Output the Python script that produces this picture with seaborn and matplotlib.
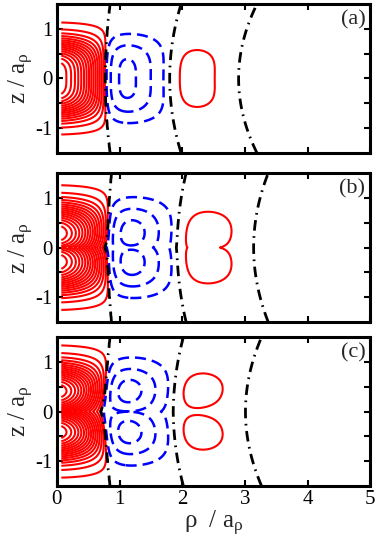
import numpy as np
import matplotlib
matplotlib.use("Agg")
import matplotlib.pyplot as plt
import seaborn as sns

# ---- data ----
panel_labels = ["(a)", "(b)", "(c)"]
node1 = [0.77, 0.81, 0.78]          # first nodal radius at z = 0
node2 = [1.80, 1.92, 1.86]          # second nodal radius at z = 0
node3 = [2.90, 3.14, 3.01]          # third nodal radius at z = 0
node_bend = [0.045, 0.033, 0.038]   # outward bend of nodal lines with |z|
radial_width = [1.60, 1.75, 1.66]   # radial envelope width
z_width = [0.74, 0.82, 0.86]        # axial width of the lobes
z_dip = [0.0, 0.30, 0.65]           # depth of the splitting at z = 0
z_dip_width = [0.2, 0.15, 0.3]      # axial extent of the splitting
inner_shift = [0.0, 0.05, 0.08]     # inward kink at z = 0 near the first node
outer_shift = [0.0, 0.12, 0.06]     # inward kink at z = 0 near the second lobe
core_amp = [0.80, 0.80, 0.80]       # amplitude of the central lobe
pos_levels = [0.01, 0.05, 0.10, 0.15, 0.20, 0.25, 0.30, 0.35, 0.40,
              0.45, 0.50, 0.55, 0.60, 0.65, 0.70, 0.75]
neg_levels = [-0.058, -0.032, -0.009]
zero_level = [0.0]
x_ticks = [0, 1, 2, 3, 4, 5]
x_ticklabels = ["0", "1", "2", "3", "4", "5"]
y_ticks = [-1, 0, 1]
y_ticklabels = ["-1", "0", "1"]
y_minor = [-0.5, 0.5]

sns.set_theme(style="ticks")
plt.rcParams["font.family"] = ["Liberation Serif", "DejaVu Serif"]
plt.rcParams["mathtext.fontset"] = "custom"
plt.rcParams["mathtext.rm"] = "Liberation Serif"
plt.rcParams["mathtext.it"] = "Liberation Serif:italic"

rho = np.linspace(0.07, 5.0, 600)
zz = np.linspace(-1.5, 1.5, 301)
RR, ZZ = np.meshgrid(rho, zz)


def axial(z, i):
    az = np.abs(z)
    return (np.exp(-(az / z_width[i]) ** 3.5)
            * (1.0 - z_dip[i] * np.exp(-az / z_dip_width[i])))


def field(i):
    n1, n2, n3 = node1[i], node2[i], node3[i]
    az = np.abs(ZZ)
    s0 = RR / (1.0 + node_bend[i] * ZZ ** 2)
    kink = np.exp(-az / z_dip_width[i])
    s = s0 + kink * (inner_shift[i] * np.exp(-((s0 - 0.7) / 0.3) ** 2)
                     + outer_shift[i] * np.exp(-((s0 - 2.35) / 0.3) ** 2))
    core = np.where(s < n1, core_amp[i] * (1.0 - (np.clip(s, 0, None) / n1) ** 1.7), 0.0)
    tail = (1 - s / n1) * (1 - s / n2) * (1 - s / n3) * np.exp(-(s / radial_width[i]) ** 2)
    tail = np.where(s >= n1, tail, 0.0)
    radial = core + tail
    gmax = np.max(axial(np.linspace(0, 1.5, 3001), i))
    return radial * axial(ZZ, i) / gmax


fig = plt.figure(figsize=(3.82, 5.44), dpi=100)
left, width = 0.149, 0.820
bottoms = [0.7188, 0.4080, 0.1066]
height = 0.2738

for i in range(3):
    ax = fig.add_axes([left, bottoms[i], width, height])
    F = field(i)
    ax.contour(RR, ZZ, F, levels=pos_levels, colors="#ff0000",
               linewidths=1.5, linestyles="solid")
    ax.contour(RR, ZZ, F, levels=neg_levels, colors="#0000ff",
               linewidths=1.8, linestyles=[(0, (4.4, 2.4))])
    ax.contour(RR, ZZ, F, levels=zero_level, colors="black",
               linewidths=2.0, linestyles=[(0, (3.8, 2.0, 0.6, 2.0))])
    ax.set_xlim(0, 5)
    ax.set_ylim(-1.5, 1.5)
    ax.set_xticks(x_ticks)
    ax.set_yticks(y_ticks)
    ax.set_yticks(y_minor, minor=True)
    ax.set_yticklabels(y_ticklabels, fontsize=15)
    if i == 2:
        ax.set_xticklabels(x_ticklabels, fontsize=15)
        ax.set_xlabel("ρ  / a$_{\\mathregular{ρ}}$", fontsize=18, labelpad=0)
    else:
        ax.set_xticklabels([])
    ax.set_ylabel("z / a$_{\\mathregular{ρ}}$", fontsize=18, labelpad=0)
    ax.tick_params(which="both", direction="in", top=True, right=True,
                   length=4.5, width=1.5, pad=3, colors="black")
    for sp in ax.spines.values():
        sp.set_linewidth(2.2)
        sp.set_color("black")
    ax.text(0.985, 0.96, panel_labels[i], transform=ax.transAxes,
            ha="right", va="top", fontsize=16)
    ax.set_facecolor("white")

fig.savefig("out.png", dpi=100, facecolor="white")
